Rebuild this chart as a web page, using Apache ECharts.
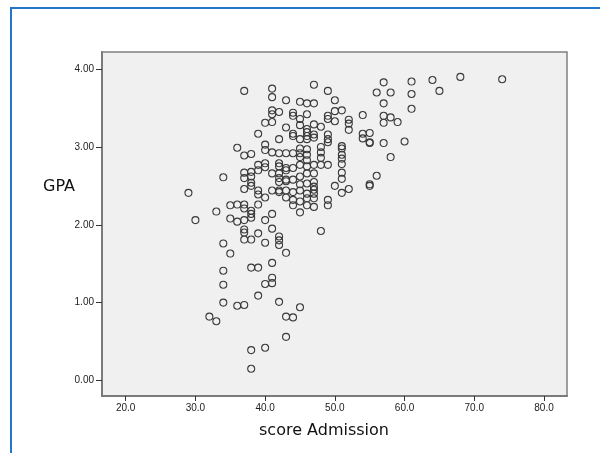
<!DOCTYPE html>
<html>
<head>
<meta charset="utf-8">
<script src="https://cdn.jsdelivr.net/npm/echarts@6/dist/echarts.min.js"></script>
<style>
  html, body { margin: 0; padding: 0; background: #fff; }
  #chart { width: 600px; height: 453px; }
</style>
</head>
<body>
<div id="chart"></div>
<script>
// admission scores (columns) and the GPA values
const scores = [29, 30, 32, 33, 34, 35, 36, 37, 38, 39, 40, 41, 42, 43, 44, 45, 46, 47, 48, 49, 50, 51, 52, 54, 55, 56, 57, 58, 59, 60, 61, 64, 65, 68, 74]
const gpaByScore = [
  [2.41],
  [2.06],
  [0.82],
  [0.76, 2.17],
  [2.61, 1.76, 1.41, 1.23, 1.00],
  [2.25, 2.08, 1.63],
  [2.99, 2.26, 2.04, 0.96],
  [3.72, 2.89, 2.67, 2.60, 2.46, 2.26, 2.21, 2.06, 1.94, 1.90, 1.81, 0.97],
  [2.91, 2.68, 2.62, 2.54, 2.50, 2.18, 2.14, 2.09, 1.81, 1.45, 0.39, 0.15],
  [3.17, 2.77, 2.70, 2.44, 2.39, 2.26, 1.89, 1.45, 1.09],
  [3.31, 3.03, 2.96, 2.79, 2.74, 2.35, 2.06, 1.77, 1.24, 0.42],
  [3.75, 3.64, 3.47, 3.42, 3.32, 2.93, 2.66, 2.44, 2.14, 1.95, 1.51, 1.32, 1.25],
  [3.45, 3.10, 2.92, 2.79, 2.75, 2.66, 2.60, 2.55, 2.44, 2.42, 1.85, 1.80, 1.74, 1.01],
  [3.60, 3.25, 2.92, 2.73, 2.70, 2.58, 2.56, 2.44, 2.35, 1.64, 0.82, 0.56],
  [3.44, 3.40, 3.17, 3.14, 2.92, 2.73, 2.58, 2.42, 2.32, 2.25, 0.81],
  [3.58, 3.36, 3.28, 3.10, 2.98, 2.92, 2.87, 2.77, 2.62, 2.52, 2.44, 2.30, 2.16, 0.94],
  [3.56, 3.42, 3.23, 3.19, 3.14, 3.10, 2.97, 2.90, 2.83, 2.75, 2.66, 2.53, 2.40, 2.34, 2.25],
  [3.80, 3.56, 3.29, 3.16, 3.12, 2.77, 2.66, 2.55, 2.49, 2.45, 2.40, 2.34, 2.23],
  [3.26, 3.00, 2.93, 2.86, 2.77, 1.92],
  [3.72, 3.40, 3.36, 3.16, 3.10, 3.06, 2.77, 2.32, 2.25],
  [3.60, 3.46, 3.33, 2.50],
  [3.47, 3.01, 2.98, 2.90, 2.85, 2.78, 2.67, 2.59, 2.41],
  [3.35, 3.30, 3.22, 2.46],
  [3.41, 3.17, 3.11],
  [3.18, 3.06, 3.05, 2.52, 2.50],
  [3.70, 2.63],
  [3.83, 3.56, 3.40, 3.31, 3.05],
  [3.70, 3.38, 2.87],
  [3.32],
  [3.07],
  [3.84, 3.68, 3.49],
  [3.86],
  [3.72],
  [3.90],
  [3.87]
]
const xTicks = [20, 30, 40, 50, 60, 70, 80]
const yTicks = [0, 1, 2, 3, 4]

const points = []
scores.forEach((s, i) => {
  gpaByScore[i].forEach(g => points.push([s, g]))
})

const chart = echarts.init(document.getElementById('chart'))
const labelFont = { fontFamily: 'Liberation Sans', fontSize: 10, color: '#222' }

chart.setOption({
  animation: false,
  graphic: [
    {
      type: 'rect',
      shape: { x: 11, y: 8, width: 620, height: 470 },
      style: { fill: 'none', stroke: '#2277c8', lineWidth: 2 }
    },
    {
      type: 'text',
      x: 59, y: 187,
      style: {
        text: 'GPA', fontFamily: 'DejaVu Sans', fontSize: 16, fill: '#111',
        align: 'center', verticalAlign: 'middle'
      }
    },
    {
      type: 'text',
      x: 324, y: 431,
      style: {
        text: 'score Admission', fontFamily: 'DejaVu Sans', fontSize: 16, fill: '#111',
        align: 'center', verticalAlign: 'middle'
      }
    }
  ],
  grid: {
    left: 102, top: 52, right: 33, bottom: 57,
    show: true,
    backgroundColor: '#f0f0f0',
    borderColor: '#808080',
    borderWidth: 1.5,
    outerBoundsMode: 'none'
  },
  xAxis: {
    type: 'value',
    min: 16.6,
    max: 83.3,
    splitLine: { show: false },
    axisLine: { show: true, onZero: false, lineStyle: { color: '#7a7a7a', width: 2 } },
    axisTick: {
      show: true, length: 5, inside: false,
      customValues: xTicks,
      lineStyle: { color: '#333', width: 1 }
    },
    axisLabel: {
      customValues: xTicks,
      margin: 7,
      formatter: v => v.toFixed(1),
      ...labelFont
    }
  },
  yAxis: {
    type: 'value',
    min: -0.2,
    max: 4.22,
    splitLine: { show: false },
    axisLine: { show: true, onZero: false, lineStyle: { color: '#7a7a7a', width: 2 } },
    axisTick: {
      show: true, length: 6, inside: false,
      customValues: yTicks,
      lineStyle: { color: '#333', width: 1 }
    },
    axisLabel: {
      customValues: yTicks,
      margin: 8,
      formatter: v => v.toFixed(2),
      ...labelFont
    }
  },
  series: [{
    type: 'scatter',
    data: points,
    symbol: 'circle',
    symbolSize: 7,
    itemStyle: {
      color: 'rgba(0,0,0,0)',
      borderColor: '#3a3a3a',
      borderWidth: 1.1,
      opacity: 1
    }
  }]
})
</script>
</body>
</html>
